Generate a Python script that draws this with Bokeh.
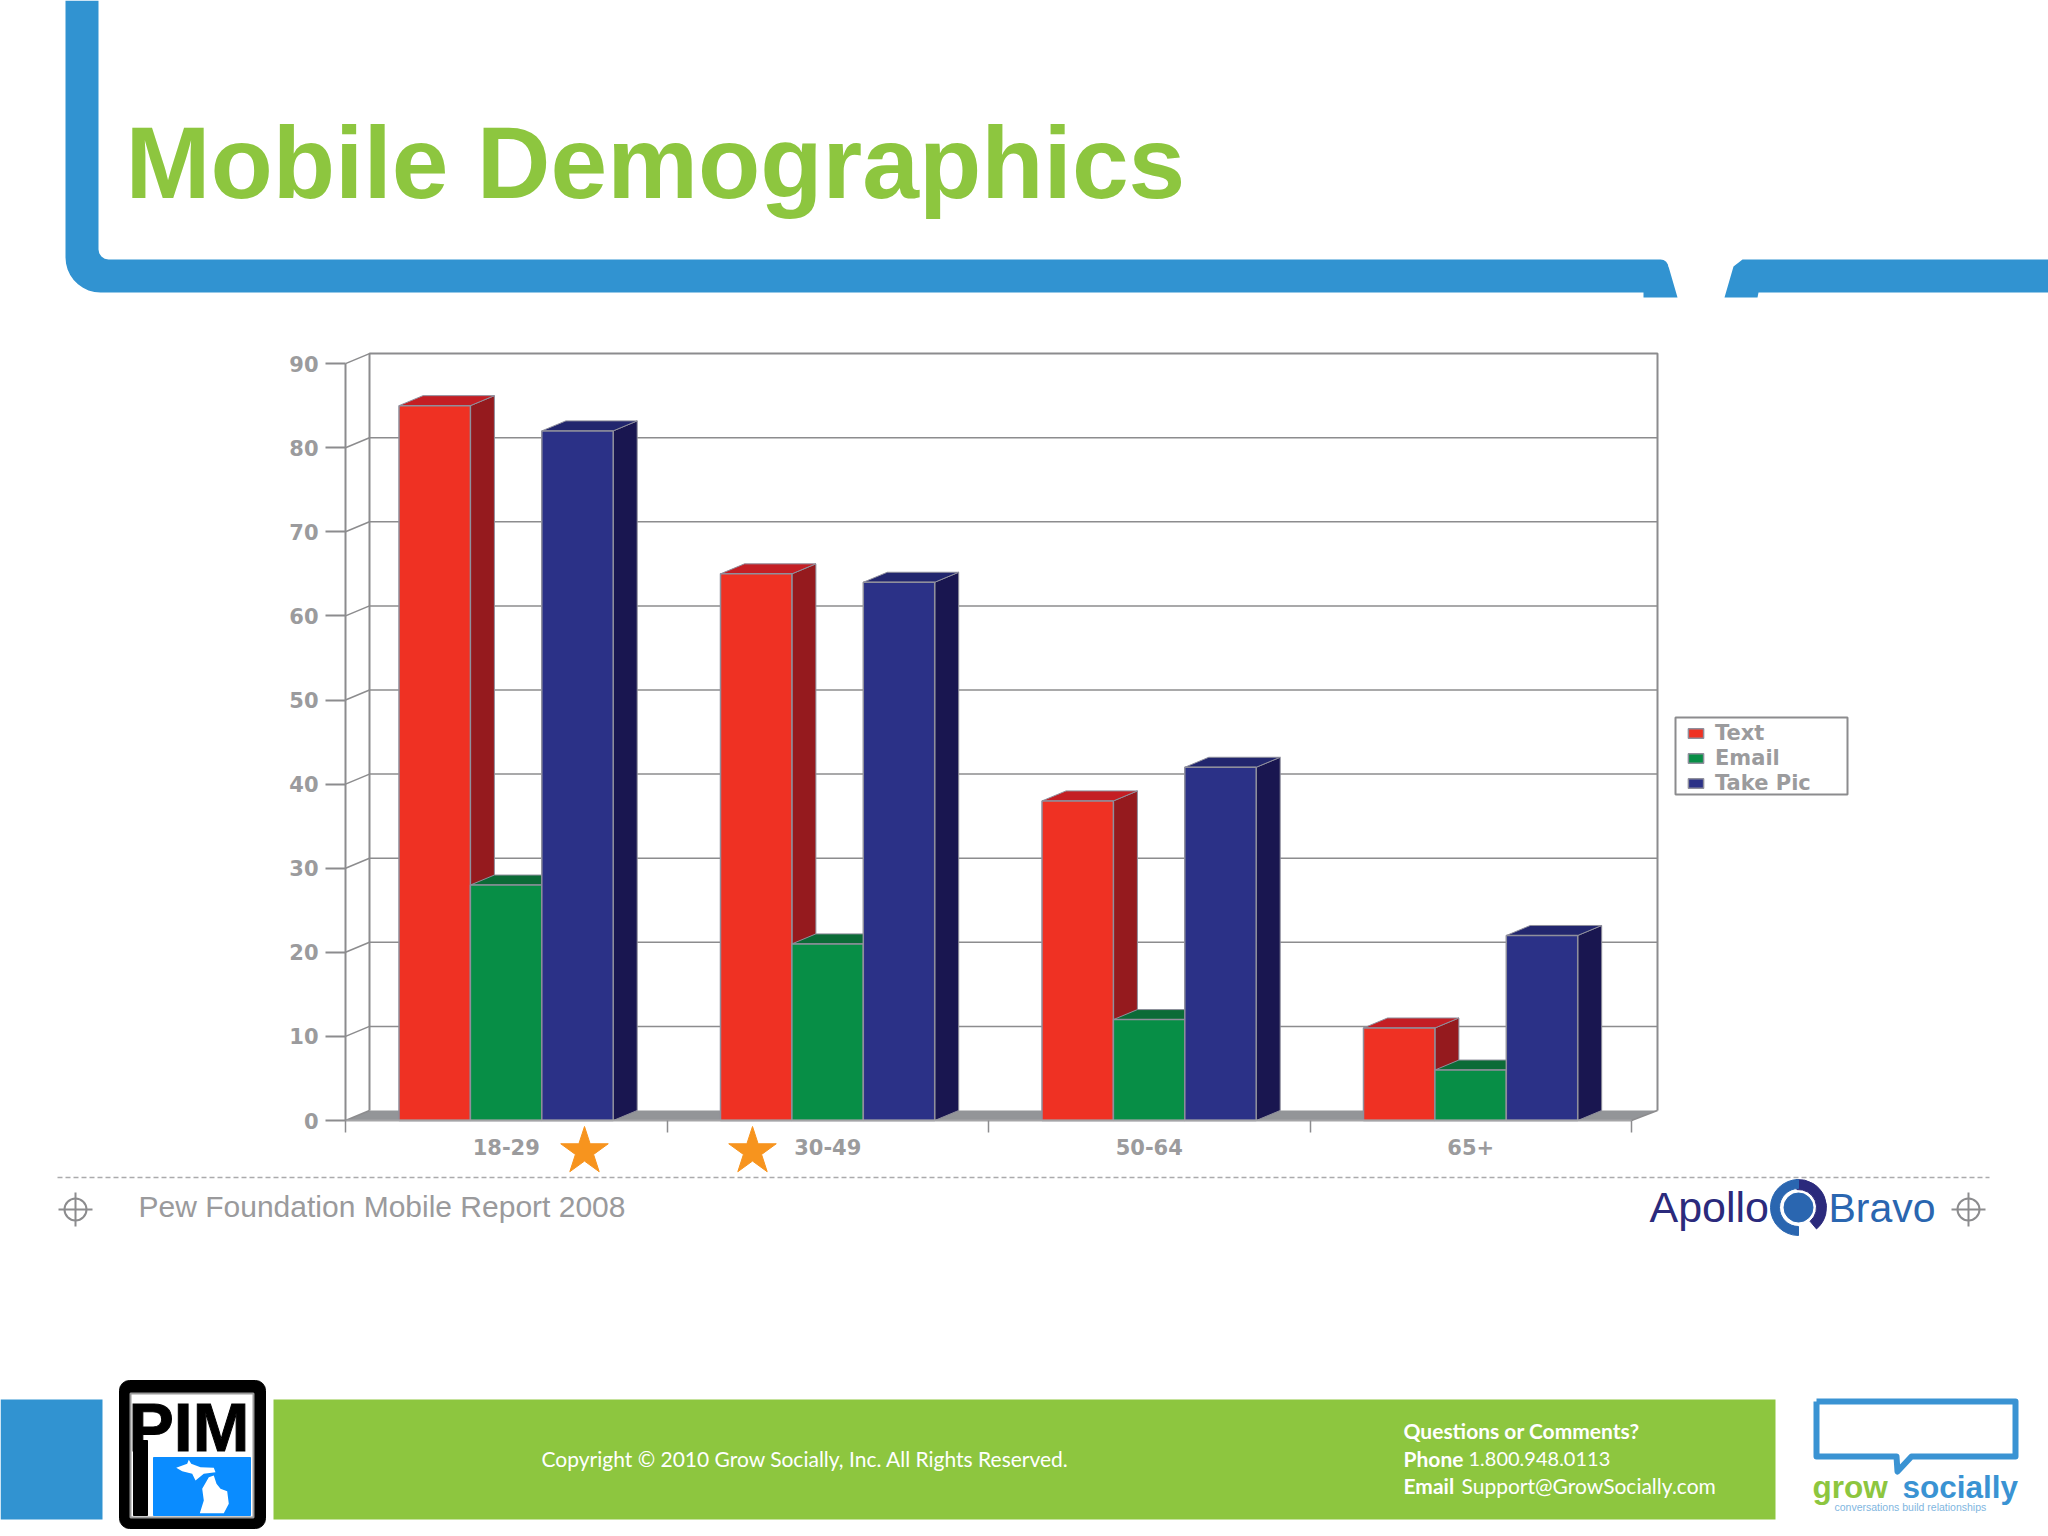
import math
import numpy as np
from bokeh.plotting import figure
from bokeh.models import Range1d, LinearAxis, FixedTicker, Label, Legend, LegendItem
from bokeh.embed import file_html
from bokeh.resources import INLINE

# data
age_groups = ["18-29", "30-49", "50-64", "65+"]
text_vals = [85, 65, 38, 11]
email_vals = [28, 21, 12, 6]
pic_vals = [82, 64, 42, 22]
y_ticks = [0, 10, 20, 30, 40, 50, 60, 70, 80, 90]
series_names = ["Text", "Email", "Take Pic"]

GREEN = "#8DC63F"
BLUE = "#3193D1"
GREY = "#8C8C8E"
LABEL_GREY = "#9B9B9D"

# where the chart sits on the slide, in page pixels
X0, GROUP_W = 345.0, 321.5
Y0, UNIT_H = 1120.0, 8.41
PAGE_L, PAGE_R, PAGE_T, PAGE_B = 0, 2048, 0, 1536

p = figure(width=PAGE_R - PAGE_L, height=PAGE_B - PAGE_T,
           x_range=Range1d(PAGE_L, PAGE_R), y_range=Range1d(PAGE_B, PAGE_T),
           x_axis_type=None, y_axis_type=None, tools="", toolbar_location=None,
           min_border=0, outline_line_color=None, output_backend="svg")
p.background_fill_color = "white"
p.border_fill_color = "white"

p.extra_x_ranges["chart"] = Range1d((PAGE_L - X0) / GROUP_W, (PAGE_R - X0) / GROUP_W)
p.extra_y_ranges["chart"] = Range1d((Y0 - PAGE_B) / UNIT_H, (Y0 - PAGE_T) / UNIT_H)
chart = dict(x_range_name="chart", y_range_name="chart")

# depth of the fake 3d, in chart units
DX = 24 / GROUP_W
DY = 10 / UNIT_H
n_groups = len(age_groups)
WALL_R = n_groups + 26 / GROUP_W


def arc(cx, cy, r, a0, a1, n=10):
    return [(cx + r * math.cos(math.radians(a)), cy + r * math.sin(math.radians(a)))
            for a in np.linspace(a0, a1, n)]


def label(x, y, text, size, color, font="Liberation Sans", style="normal", **kw):
    # y is the baseline; the svg text lands about 0.35em low with alphabetic
    p.add_layout(Label(x=x, y=y - 0.35 * size, text=text, text_font=font, text_font_size=f"{size}px",
                       text_color=color, text_font_style=style,
                       text_baseline="alphabetic", **kw))


# ---- slide header
frame_pts = ([(65, 0)] + arc(100, 257, 35, 180, 90) + [(1643, 292), (1643, 297), (1677, 297), (1668, 266)]
             + arc(1660, 267, 8, 0, -90, 5) + arc(108, 249, 10, 90, 180, 5) + [(98, 0)])
p.patch([a for a, b in frame_pts], [b for a, b in frame_pts], color=BLUE, line_width=0)
right_pts = [(1724, 297), (1733, 266), (1742, 259), (2048, 259), (2048, 292), (1758, 292), (1757, 297)]
p.patch([a for a, b in right_pts], [b for a, b in right_pts], color=BLUE, line_width=0)
label(125, 198, "Mobile Demographics", 102, GREEN, style="bold")

# ---- back wall, floor and grid
p.patch([0, n_groups, WALL_R, DX], [0, 0, DY, DY], color="#939598", line_width=0, **chart)
wall_x = [DX, DX, WALL_R, WALL_R]
wall_y = [DY, 90 + DY, 90 + DY, DY]
p.line(wall_x, wall_y, line_color=GREY, line_width=2, **chart)
grid_vals = y_ticks[1:-1]
p.segment([DX] * len(grid_vals), [v + DY for v in grid_vals],
          [WALL_R] * len(grid_vals), [v + DY for v in grid_vals],
          line_color=GREY, line_width=1.5, **chart)
p.segment([0] * len(y_ticks), y_ticks, [DX] * len(y_ticks), [v + DY for v in y_ticks],
          line_color=GREY, line_width=1.5, **chart)
p.line([n_groups, WALL_R], [0, DY], line_color=GREY, line_width=1.5, **chart)

# ---- bars
bar_w = 71.4 / GROUP_W
pad = 53.5 / GROUP_W
styles = [("#EF3123", "#C41E24", "#951A1E"),
          ("#078E46", "#0B6B37", "#0B5F33"),
          ("#2B3187", "#22266E", "#191650")]
legend_items = []
for s, vals in enumerate([text_vals, email_vals, pic_vals]):
    front, top, side = styles[s]
    left = np.arange(n_groups) + pad + s * bar_w
    right = left + bar_w
    vals = np.array(vals, dtype=float)
    p.patches([[r, r + DX, r + DX, r] for r in right],
              [[0, DY, v + DY, v] for v in vals],
              fill_color=side, line_color="#8F8F9C", line_width=1, **chart)
    p.patches([[l, l + DX, r + DX, r] for l, r in zip(left, right)],
              [[v, v + DY, v + DY, v] for v in vals],
              fill_color=top, line_color="#8F8F9C", line_width=1, **chart)
    bars = p.quad(left=left, right=right, bottom=0, top=vals,
                  fill_color=front, line_color="#8F8F9C", line_width=1.5, **chart)
    legend_items.append(LegendItem(label=series_names[s], renderers=[bars]))

# ---- axes
y_axis = LinearAxis(ticker=FixedTicker(ticks=y_ticks), bounds=(0, 90), fixed_location=0, **chart)
y_axis.axis_line_color = GREY
y_axis.axis_line_width = 2
y_axis.major_tick_line_color = GREY
y_axis.major_tick_line_width = 2
y_axis.major_tick_in = 0
y_axis.major_tick_out = 20
y_axis.major_label_standoff = 7
y_axis.minor_tick_line_color = None
y_axis.major_label_text_font = "DejaVu Sans"
y_axis.major_label_text_font_style = "bold"
y_axis.major_label_text_font_size = "21px"
y_axis.major_label_text_color = LABEL_GREY
p.add_layout(y_axis, "left")

centers = [i + 0.5 for i in range(n_groups)]
x_axis = LinearAxis(ticker=FixedTicker(ticks=centers, minor_ticks=list(range(n_groups + 1))),
                    bounds=(0, n_groups), fixed_location=0, **chart)
x_axis.major_label_overrides = dict(zip(centers, age_groups))
x_axis.axis_line_color = "#A5A5A7"
x_axis.axis_line_width = 2
x_axis.major_tick_line_color = None
x_axis.major_tick_in = 0
x_axis.major_tick_out = 0
x_axis.major_label_standoff = 6
x_axis.minor_tick_line_color = GREY
x_axis.minor_tick_line_width = 1.5
x_axis.minor_tick_in = 0
x_axis.minor_tick_out = 12
x_axis.major_label_text_font = "DejaVu Sans"
x_axis.major_label_text_font_style = "bold"
x_axis.major_label_text_font_size = "21px"
x_axis.major_label_text_color = LABEL_GREY
p.add_layout(x_axis, "below")

# legend box is drawn on its own, with no border bokeh drops the legend padding
p.quad(left=[1675], right=[1847], top=[717], bottom=[794], fill_color="white",
       line_color=GREY, line_width=2)
legend = Legend(items=legend_items, location=(1686, 741), orientation="vertical",
                border_line_color=None, background_fill_alpha=0, glyph_width=19, glyph_height=12,
                label_standoff=10, label_text_font="DejaVu Sans", label_text_font_style="bold",
                label_text_font_size="21px", label_text_color=LABEL_GREY, label_width=125,
                label_height=14, spacing=1, padding=0, margin=0)
p.add_layout(legend)

# ---- stars, source line, logo row
p.scatter([584, 752], [1151, 1151], marker="star", size=50, color="#F7941E")
p.line([57, 1989], [1177, 1177], line_color="#ABABAD", line_width=1.5, line_dash=[5, 3])
label(138, 1216, "Pew Foundation Mobile Report 2008", 30, "#9A9A9C")

for cx in [75, 1968]:
    p.circle([cx], [1209], radius=11, fill_color=None, line_color=GREY, line_width=2)
    p.segment([cx - 17, cx], [1209, 1192], [cx + 17, cx], [1209, 1226], line_color=GREY, line_width=2)

label(1649, 1222, "Apollo", 43, "#2B2A7C")
label(1828, 1222, "Bravo", 41, "#2A66B0")
p.annular_wedge(1798, 1207, 18, 28, math.radians(-50), math.radians(95), color="#2B2A7C")
p.annular_wedge(1798, 1207, 19, 28, math.radians(90), math.radians(270), color="#2A66B0")
p.circle([1798], [1207], radius=14.5, color="#2A66B0")

# ---- footer
p.quad(left=[0, 273], right=[102, 1775], top=[1399, 1399], bottom=[1519, 1519],
       color=[BLUE, GREEN], line_width=0)
label(541, 1465, "Copyright \u00a9 2010 Grow Socially, Inc. All Rights Reserved.", 21, "white", font="Lato")
label(1403, 1437, "Questions or Comments?", 21, "white", font="Lato", style="bold")
label(1403, 1465, "Phone", 21, "white", font="Lato", style="bold")
label(1468, 1465, "1.800.948.0113", 20, "white", font="Lato")
label(1403, 1492, "Email", 21, "white", font="Lato", style="bold")
label(1461, 1492, "Support@GrowSocially.com", 21, "white", font="Lato")

# PIM badge
p.quad(left=[119], right=[265], top=[1380], bottom=[1528], color="black", border_radius=10)
p.quad(left=[130], right=[253], top=[1393], bottom=[1517], fill_color="white", line_color="#999999", line_width=2)
label(128, 1450, "PIM", 68, "black", style="bold", text_outline_color="black")
p.quad(left=[133], right=[147], top=[1440], bottom=[1515], color="black")
p.quad(left=[153], right=[250], top=[1457], bottom=[1515], color="#0A8CFF")
up_x = [175.7, 186.7, 188.3, 190.7, 200, 213.3, 215, 203.3, 195, 191.7, 181.7]
up_y = [1467.3, 1463.3, 1459.3, 1463.3, 1466.7, 1467.3, 1471.7, 1473.3, 1480, 1473.3, 1470.7]
lp_x = [213.3, 216, 220, 226.7, 228.3, 223.3, 199.3, 203.3, 201.7, 208.3]
lp_y = [1475, 1483.3, 1488.3, 1490.7, 1503.3, 1512.7, 1512.7, 1500, 1488.3, 1476.7]
p.patch(up_x, up_y, color="white", line_width=0)
p.patch(lp_x, lp_y, color="white", line_width=0)

# grow socially speech bubble
bub_x = [1816, 2015, 2015, 1911, 1897, 1896, 1816, 1816]
bub_y = [1401, 1401, 1456, 1456, 1471, 1456, 1456, 1401]
p.line(bub_x, bub_y, line_color="#3A93D3", line_width=6, line_join="round")
label(1812, 1498, "grow", 31.5, "#8DC63F", style="bold")
label(1902, 1498, "socially", 31.5, "#3A93D3", style="bold")
label(1834, 1510, "conversations build relationships", 10.5, "#7FB6E0")

open("out.html", "w").write(file_html(p, INLINE))
